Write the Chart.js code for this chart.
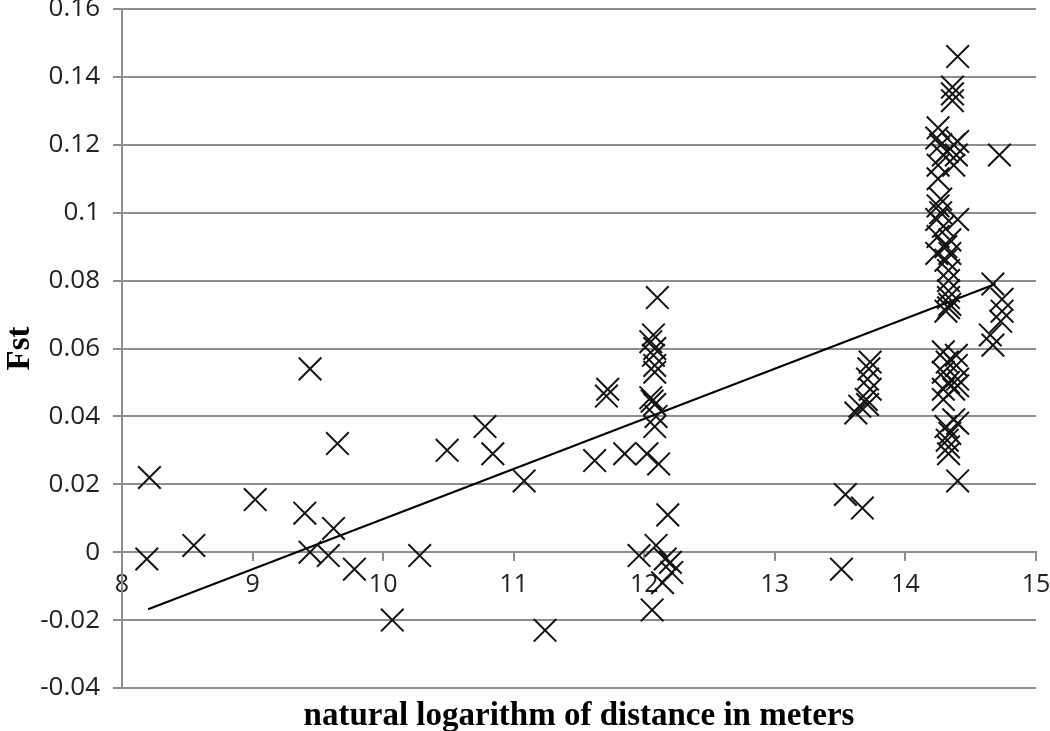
<!DOCTYPE html>
<html>
<head>
<meta charset="utf-8">
<script src="https://cdn.jsdelivr.net/npm/chart.js@4/dist/chart.umd.min.js"></script>
<style>
  html, body { margin: 0; padding: 0; background: #fff; }
  #wrap { width: 1050px; height: 731px; }
</style>
</head>
<body>
<div id="wrap"><canvas id="fstChart"></canvas></div>
<script>
// ln(distance) per pair
const distLn = [
  8.21, 8.19, 8.55, 9.02, 9.44, 9.40, 9.44, 9.62, 9.58, 9.65, 9.78, 10.07, 10.28, 10.49, 10.78, 10.84, 11.08, 11.24,
  11.62, 11.72, 11.71, 11.85, 12.02, 12.11, 12.08, 12.09, 12.05, 12.06, 12.08, 12.10, 12.07, 12.05, 12.08, 12.07,
  12.08, 12.08, 12.18, 11.96, 12.09, 12.16, 12.20, 12.21, 12.14, 12.06,
  13.73, 13.72, 13.71, 13.73, 13.70, 13.71, 13.62, 13.65, 13.54, 13.67, 13.51,
  14.40, 14.33, 14.33, 14.32, 14.34, 14.31, 14.40, 14.37, 14.29, 14.37, 14.40, 14.29, 14.33, 14.40, 14.29, 14.39,
  14.32, 14.39, 14.29,
  14.33, 14.40, 14.36, 14.36, 14.36, 14.25, 14.24, 14.40, 14.27, 14.37, 14.32, 14.29, 14.39, 14.37, 14.25, 14.25,
  14.27, 14.25, 14.27, 14.40, 14.24, 14.29, 14.25, 14.34, 14.31, 14.24, 14.34, 14.31, 14.33, 14.33, 14.33, 14.33,
  14.34, 14.31,
  14.72, 14.67, 14.74, 14.74, 14.73, 14.65, 14.67
];

// pairwise Fst
const fst = [
  0.022, -0.002, 0.002, 0.0155, 0.054, 0.0115, 0.000, 0.007, -0.001, 0.032, -0.005, -0.020, -0.001, 0.030, 0.037, 0.029, 0.021, -0.023,
  0.027, 0.048, 0.046, 0.029, 0.029, 0.026, 0.037, 0.040, 0.0455, 0.0445, 0.0435, 0.075, 0.064, 0.062, 0.060, 0.058,
  0.055, 0.053, 0.011, -0.001, 0.002, -0.002, -0.003, -0.006, -0.009, -0.017,
  0.056, 0.054, 0.051, 0.048, 0.045, 0.0435, 0.041, 0.043, 0.017, 0.013, -0.005,
  0.021, 0.029, 0.031, 0.033, 0.035, 0.037, 0.038, 0.039, 0.045, 0.048, 0.049, 0.048, 0.050, 0.051, 0.053, 0.055,
  0.056, 0.058, 0.059,
  0.072, 0.146, 0.137, 0.135, 0.133, 0.125, 0.122, 0.121, 0.120, 0.120, 0.118, 0.117, 0.117, 0.114, 0.114, 0.110,
  0.104, 0.102, 0.100, 0.098, 0.098, 0.096, 0.093, 0.092, 0.090, 0.088, 0.088, 0.086, 0.083, 0.080, 0.077, 0.075,
  0.073, 0.071,
  0.117, 0.079, 0.0745, 0.071, 0.068, 0.064, 0.061
];

// linear trend line end points
const trendX = [8.2, 14.69];
const trendY = [-0.0168, 0.0790];

const xTickLabels = ['8', '9', '10', '11', '12', '13', '14', '15'];
const yTickLabels = ['-0.04', '-0.02', '0', '0.02', '0.04', '0.06', '0.08', '0.1', '0.12', '0.14', '0.16'];

Chart.defaults.font.family = "'Open Sans', sans-serif";
Chart.defaults.color = '#222';

const gridGray = '#8e8e8e';
const serifBold = "'Liberation Serif', 'Times New Roman', serif";

// keep tick labels from pushing the plot area inward
const noPad = (s) => { s.paddingLeft = 0; s.paddingRight = 0; s.paddingTop = 0; s.paddingBottom = 0; };

const ctx = document.getElementById('fstChart').getContext('2d');

new Chart(ctx, {
  type: 'scatter',
  data: {
    datasets: [
      {
        label: 'Fst',
        data: distLn.map((x, i) => ({ x: x, y: fst[i] })),
        pointStyle: 'crossRot',
        pointRadius: 16,
        pointHoverRadius: 16,
        borderColor: '#141414',
        backgroundColor: '#141414',
        borderWidth: 2
      },
      {
        type: 'line',
        label: 'trend',
        data: trendX.map((x, i) => ({ x: x, y: trendY[i] })),
        borderColor: '#000',
        borderWidth: 2,
        pointRadius: 0,
        fill: false
      }
    ]
  },
  options: {
    responsive: true,
    maintainAspectRatio: false,
    animation: false,
    events: [],
    layout: { autoPadding: false, padding: { top: 9, right: 14, left: 0, bottom: 0 } },
    plugins: {
      legend: { display: false },
      tooltip: { enabled: false }
    },
    scales: {
      x: {
        type: 'linear',
        position: { y: 0 },
        min: 8,
        max: 15,
        ticks: {
          stepSize: 1,
          padding: 10,
          font: { size: 25 },
          callback: (v, i) => xTickLabels[i]
        },
        grid: { drawOnChartArea: false, drawTicks: true, tickLength: 8, color: gridGray, lineWidth: 2 },
        border: { color: gridGray, width: 2 },
        afterFit: noPad
      },
      xTitle: {
        type: 'linear',
        axis: 'x',
        position: 'bottom',
        ticks: { display: false },
        grid: { display: false },
        border: { display: false },
        title: {
          display: true,
          text: 'natural logarithm of distance in meters',
          color: '#000',
          padding: { top: 0, bottom: 0 },
          font: { family: serifBold, weight: 'bold', size: 33, lineHeight: 0.9 }
        },
        afterFit: (s) => { noPad(s); s.height = 43; }
      },
      y: {
        min: -0.04,
        max: 0.16,
        ticks: {
          stepSize: 0.02,
          padding: 13,
          font: { size: 26 },
          callback: (v, i) => yTickLabels[i]
        },
        grid: { color: gridGray, lineWidth: 2, tickLength: 9 },
        border: { color: gridGray, width: 2 },
        title: {
          display: true,
          text: 'Fst',
          color: '#000',
          padding: { top: 4, bottom: 0 },
          font: { family: serifBold, weight: 'bold', size: 33, lineHeight: 1 }
        },
        afterFit: (s) => { noPad(s); s.width = 122; }
      }
    }
  }
});
</script>
</body>
</html>
